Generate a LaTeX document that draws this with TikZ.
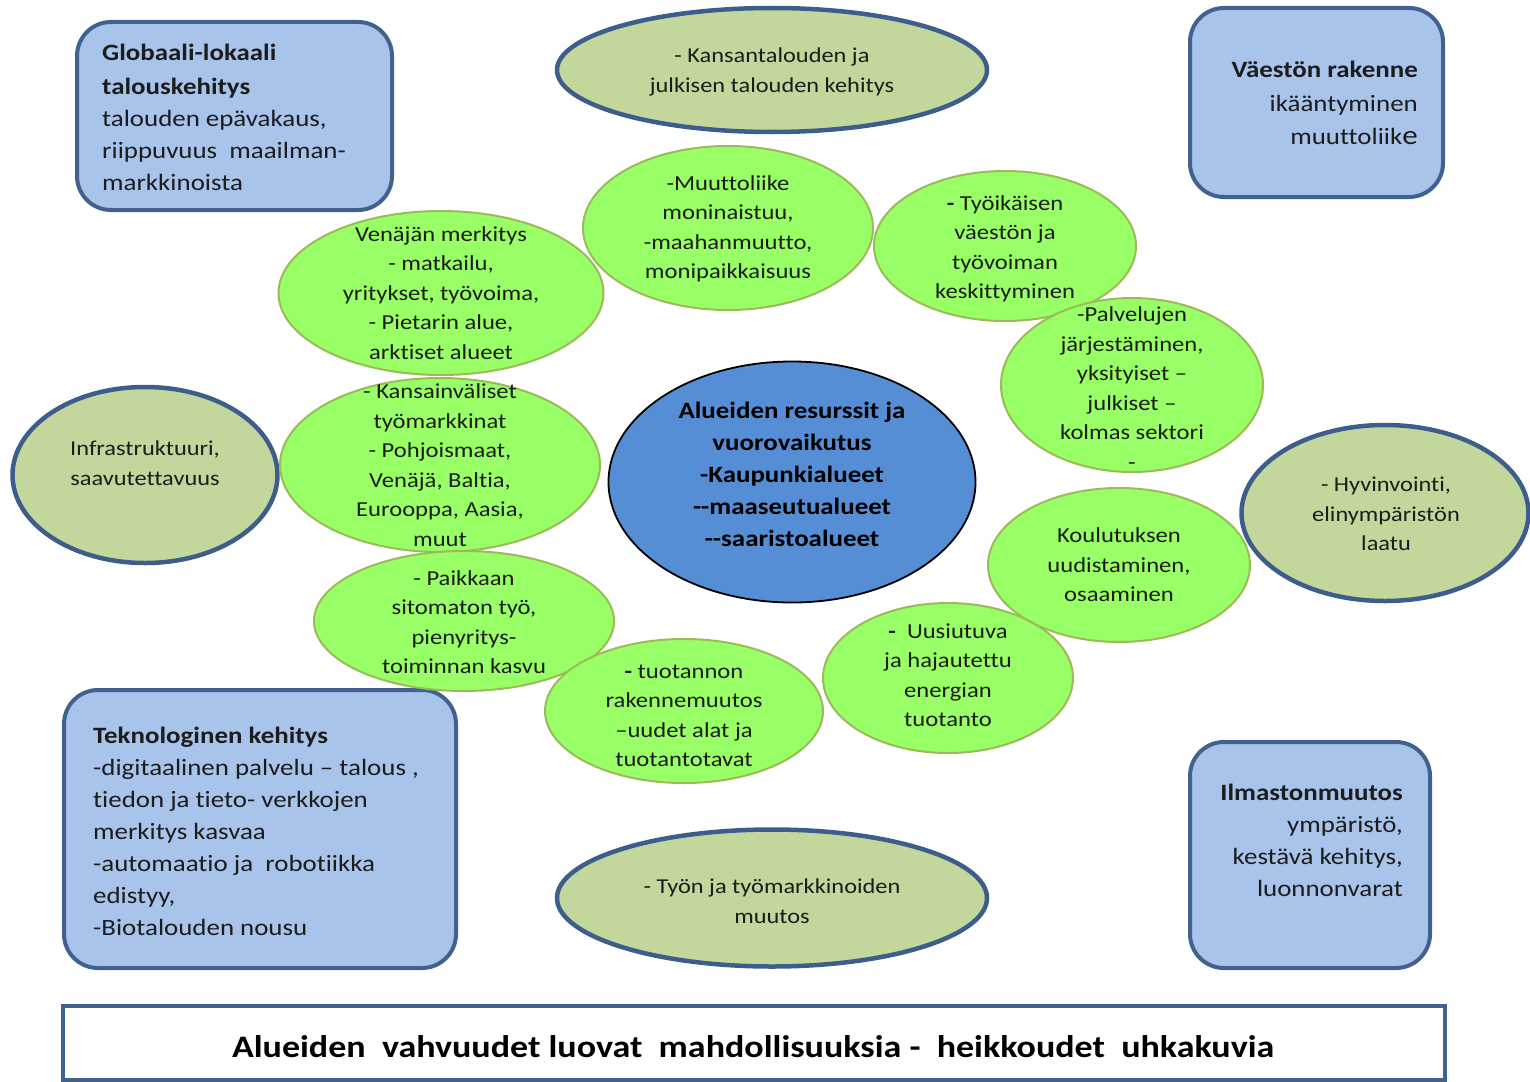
\documentclass[tikz,border=0pt]{standalone}
\usepackage{fontspec}
\setmainfont{Carlito}[FakeStretch=1.15, Ligatures={TeX,NoCommon}]
\usetikzlibrary{shapes.geometric}
\definecolor{boxfill}{RGB}{169,196,235}
\definecolor{boxline}{RGB}{65,98,143}
\definecolor{olivefill}{RGB}{195,214,155}
\definecolor{oliveline}{RGB}{61,93,140}
\definecolor{greenfill}{RGB}{153,255,102}
\definecolor{greenline}{RGB}{155,187,89}
\definecolor{centerfill}{RGB}{85,142,213}
\definecolor{txtcol}{RGB}{28,28,28}
\begin{document}
\begin{tikzpicture}[x=1pt,y=-1pt,
  bluebox/.style={draw=boxline, fill=boxfill, line width=4pt, rounded corners=34pt, inner sep=0},
  olive/.style={ellipse, draw=oliveline, fill=olivefill, line width=4.5pt, inner sep=0},
  greenell/.style={ellipse, draw=greenline, fill=greenfill, line width=2pt, inner sep=0},
  centerell/.style={ellipse, draw=black, fill=centerfill, line width=1.8pt, inner sep=0},
  txt/.style={align=center, text=txtcol, inner sep=0, font=\fontsize{21.4}{29.5}\selectfont},
  otxt/.style={align=center, text=txtcol, inner sep=0, font=\fontsize{21.2}{29.5}\selectfont},
  btxt/.style={text=txtcol, inner sep=0, font=\fontsize{23.4}{32}\selectfont},
  ctxt/.style={align=center, text=black, inner sep=0, font=\fontsize{23.4}{32}\selectfont\bfseries}]
\useasboundingbox (0,0) rectangle (1530,1081);
\clip (0,0) rectangle (1530,1081);

% corner boxes
\node[bluebox, minimum width=315, minimum height=188] (b1) at (234.5,116) {};
\node[btxt, align=left, anchor=west] (b1t) at (102,117) {{\bfseries Globaali-lokaali}\\[2pt]{\bfseries talouskehitys}\\talouden epävakaus,\\riippuvuus\ \ maailman-\\markkinoista};

\node[bluebox, minimum width=253, minimum height=189] (b2) at (1316.5,102.5) {};
\node[btxt, align=right, anchor=east, font=\fontsize{23.4}{33.5}\selectfont] (b2t) at (1418,103) {{\bfseries Väestön rakenne}\\ikääntyminen\\muuttoliik{\fontsize{27}{33.5}\selectfont e}};

\node[bluebox, minimum width=392, minimum height=278] (b3) at (260,829) {};
\node[btxt, align=left, anchor=west] (b3t) at (93,831) {{\bfseries Teknologinen kehitys}\\-digitaalinen palvelu – talous ,\\tiedon ja tieto- verkkojen\\merkitys kasvaa\\-automaatio ja\ \ robotiikka\\edistyy,\\-Biotalouden nousu};

\node[bluebox, minimum width=240, minimum height=226] (b4) at (1310,855) {};
\node[btxt, align=right, anchor=east] (b4t) at (1403,840) {{\bfseries Ilmastonmuutos}\\ympäristö,\\kestävä kehitys,\\luonnonvarat};

% olive ellipses
\node[olive, minimum width=430, minimum height=124] (o1) at (772,70) {};
\node[otxt] (o1t) at (772,72) {- Kansantalouden ja\\julkisen talouden kehitys};
\node[olive, minimum width=265, minimum height=176] (o2) at (145,475) {};
\node[otxt] (o2t) at (145,463) {Infrastruktuuri,\\saavutettavuus};
\node[olive, minimum width=430, minimum height=137] (o4) at (772,898) {};
\node[otxt] (o4t) at (772,901) {- Työn ja työmarkkinoiden\\muutos};

% green ellipses
\node[greenell, minimum width=325, minimum height=164] (g1) at (441,293) {};
\node[txt] (g1t) at (441,293) {Venäjän merkitys\\- matkailu,\\yritykset, työvoima,\\- Pietarin alue,\\arktiset alueet};
\node[greenell, minimum width=320, minimum height=174] (g5) at (440,465) {};
\node[txt] (g5t) at (440,465) {- Kansainväliset\\työmarkkinat\\- Pohjoismaat,\\Venäjä, Baltia,\\Eurooppa, Aasia,\\muut};
\node[greenell, minimum width=290, minimum height=164] (g2) at (728,228) {};
\node[txt] (g2t) at (728,229) {-Muuttoliike\\moninaistuu,\\-maahanmuutto,\\monipaikkaisuus};
\node[greenell, minimum width=262, minimum height=150] (g3) at (1005,246) {};
\node[txt] (g3t) at (1005,249) {{\bfseries -} Työikäisen\\väestön ja\\työvoiman\\keskittyminen};
\node[greenell, minimum width=262, minimum height=174] (g4) at (1132,385) {};
\node[txt] (g4t) at (1132,388) {-Palvelujen\\järjestäminen,\\yksityiset –\\julkiset –\\kolmas sektori\\-};
\node[greenell, minimum width=300, minimum height=140] (g7) at (464,621) {};
\node[txt] (g7t) at (464,622) {- Paikkaan\\sitomaton työ,\\pienyritys-\\toiminnan kasvu};
\node[greenell, minimum width=278, minimum height=144] (g8) at (684,711) {};
\node[txt] (g8t) at (684,716) {{\bfseries -} tuotannon\\rakennemuutos\\–uudet alat ja\\tuotantotavat};
\node[greenell, minimum width=250, minimum height=150] (g9) at (948,678) {};
\node[txt] (g9t) at (948,675) {{\bfseries -}\ \ Uusiutuva\\ja hajautettu\\energian\\tuotanto};
\node[greenell, minimum width=262, minimum height=154] (g6) at (1119,565) {};
\node[txt] (g6t) at (1119,565) {Koulutuksen\\uudistaminen,\\osaaminen};

\node[olive, minimum width=287, minimum height=176] (o3) at (1385,513) {};
\node[otxt] (o3t) at (1386,514) {- Hyvinvointi,\\elinympäristön\\laatu};

% central ellipse
\node[centerell, minimum width=367, minimum height=241] (c) at (792,482) {};
\node[ctxt] (ct) at (792,474) {Alueiden resurssit ja\\vuorovaikutus\\-Kaupunkialueet\\-{}-maaseutualueet\\-{}-saaristoalueet};

% banner
\node[draw=boxline, fill=white, line width=3.5pt, inner sep=0, minimum width=1382, minimum height=74] (bn) at (754,1043) {};
\node[text=black, inner sep=0, font=\fontsize{31.3}{36}\selectfont\bfseries] (bnt) at (753,1047) {Alueiden\ \ vahvuudet luovat\ \ mahdollisuuksia -\ \ heikkoudet\ \ uhkakuvia};
\end{tikzpicture}
\end{document}
